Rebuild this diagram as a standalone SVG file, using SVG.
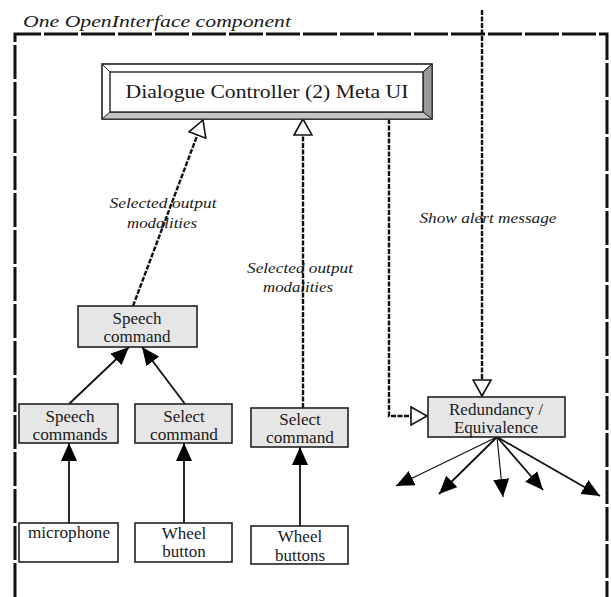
<svg xmlns="http://www.w3.org/2000/svg" width="611" height="597" viewBox="0 0 611 597">
<style>
.t{font-family:"Liberation Serif",serif;font-size:17px;fill:#1a1a1a;text-anchor:middle}
.it{font-family:"Liberation Serif",serif;font-style:italic;font-size:15px;fill:#1a1a1a;text-anchor:middle}
.box{stroke:#222;stroke-width:1.6}
.g{fill:#e6e6e6}
.w{fill:#fff}
.dash{fill:none;stroke:#111;stroke-width:2.4;stroke-dasharray:5 1.5}
.sol{fill:none;stroke:#111;stroke-width:1.8}
.frame{fill:none;stroke:#111;stroke-width:3;stroke-dasharray:34 3}
</style>
<defs>
<marker id="open" markerUnits="userSpaceOnUse" viewBox="0 0 18 20" markerWidth="18" markerHeight="20" refX="17" refY="10" orient="auto">
<path d="M1,1 L17,10 L1,19 Z" fill="#fff" stroke="#111" stroke-width="1.6" stroke-dasharray="none"/>
</marker>
<marker id="fill" markerUnits="userSpaceOnUse" viewBox="0 0 18 16" markerWidth="18" markerHeight="16" refX="18" refY="8" orient="auto">
<path d="M0,0 L18,8 L0,16 Z" fill="#000"/>
</marker>
</defs>

<g id="frame">
<path class="frame" d="M15,597 V34 H607 V597"/>
<text class="it" x="23" y="27" style="text-anchor:start;font-size:17px" textLength="268" lengthAdjust="spacingAndGlyphs">One OpenInterface component</text>
</g>

<g id="connectors">
<path class="dash" d="M133,306 L203,120" marker-end="url(#open)"/>
<path class="dash" d="M303,408 V119" marker-end="url(#open)"/>
<path class="dash" d="M389,119 V416 H427" marker-end="url(#open)"/>
<path class="dash" d="M482,10 V396" marker-end="url(#open)"/>
<path class="sol" d="M69,404 L129,347" marker-end="url(#fill)"/>
<path class="sol" d="M185,404 L142,347" marker-end="url(#fill)"/>
<path class="sol" d="M69,523 V443" marker-end="url(#fill)"/>
<path class="sol" d="M184,523 V443" marker-end="url(#fill)"/>
<path class="sol" d="M300,526 V447" marker-end="url(#fill)"/>
<path class="sol" d="M497,437 L396,486" marker-end="url(#fill)" style="stroke-width:1.2"/>
<path class="sol" d="M497,437 L439,494" marker-end="url(#fill)"/>
<path class="sol" d="M497,437 L503,497" marker-end="url(#fill)" style="stroke-width:1.2"/>
<path class="sol" d="M497,437 L543,490" marker-end="url(#fill)"/>
<path class="sol" d="M497,437 L600,496" marker-end="url(#fill)"/>
<text class="it" x="163" y="208" textLength="107" lengthAdjust="spacingAndGlyphs">Selected output</text>
<text class="it" x="162" y="228" textLength="70" lengthAdjust="spacingAndGlyphs">modalities</text>
<text class="it" x="300" y="273" textLength="106" lengthAdjust="spacingAndGlyphs">Selected output</text>
<text class="it" x="298" y="292" textLength="70" lengthAdjust="spacingAndGlyphs">modalities</text>
<text class="it" x="488" y="223" textLength="137" lengthAdjust="spacingAndGlyphs">Show alert message</text>
</g>

<g id="dialogue-controller">
<rect x="102" y="64" width="330" height="55" fill="#fff" stroke="#222" stroke-width="1.6"/>
<path d="M423,72 L432,64 L432,119 L423,112 Z" fill="#999" stroke="#222" stroke-width="1"/>
<path d="M110,112 L423,112 L432,119 L102,119 Z" fill="#c4c4c4" stroke="#222" stroke-width="1"/>
<path d="M102,64 L110,72 M432,64 L423,72" stroke="#222" stroke-width="1"/>
<rect x="110" y="72" width="313" height="40" fill="#fff" stroke="#222" stroke-width="1.4"/>
<text class="t" x="267" y="98" style="font-size:19px" textLength="283" lengthAdjust="spacingAndGlyphs">Dialogue Controller (2) Meta UI</text>
</g>

<g id="speech-command">
<rect class="box g" x="78" y="306" width="119" height="41"/>
<text class="t" x="137" y="324">Speech</text>
<text class="t" x="137" y="342">command</text>
</g>

<g id="speech-commands">
<rect class="box g" x="19" y="404" width="99" height="39"/>
<text class="t" x="70" y="422">Speech</text>
<text class="t" x="70" y="440" textLength="75" lengthAdjust="spacingAndGlyphs">commands</text>
</g>

<g id="select-command-1">
<rect class="box g" x="135" y="404" width="97" height="39"/>
<text class="t" x="184" y="422">Select</text>
<text class="t" x="184" y="440" textLength="68" lengthAdjust="spacingAndGlyphs">command</text>
</g>

<g id="select-command-2">
<rect class="box g" x="251" y="408" width="97" height="39"/>
<text class="t" x="300" y="425">Select</text>
<text class="t" x="300" y="443" textLength="68" lengthAdjust="spacingAndGlyphs">command</text>
</g>

<g id="microphone">
<rect class="box w" x="19" y="523" width="99" height="39"/>
<text class="t" x="69" y="538" textLength="82" lengthAdjust="spacingAndGlyphs">microphone</text>
</g>

<g id="wheel-button">
<rect class="box w" x="135" y="523" width="97" height="39"/>
<text class="t" x="184" y="539">Wheel</text>
<text class="t" x="184" y="557">button</text>
</g>

<g id="wheel-buttons">
<rect class="box w" x="251" y="526" width="97" height="38"/>
<text class="t" x="300" y="542">Wheel</text>
<text class="t" x="300" y="561">buttons</text>
</g>

<g id="redundancy-equivalence">
<rect class="box g" x="428" y="397" width="137" height="40"/>
<text class="t" x="496" y="415">Redundancy /</text>
<text class="t" x="496" y="433">Equivalence</text>
</g>
</svg>
